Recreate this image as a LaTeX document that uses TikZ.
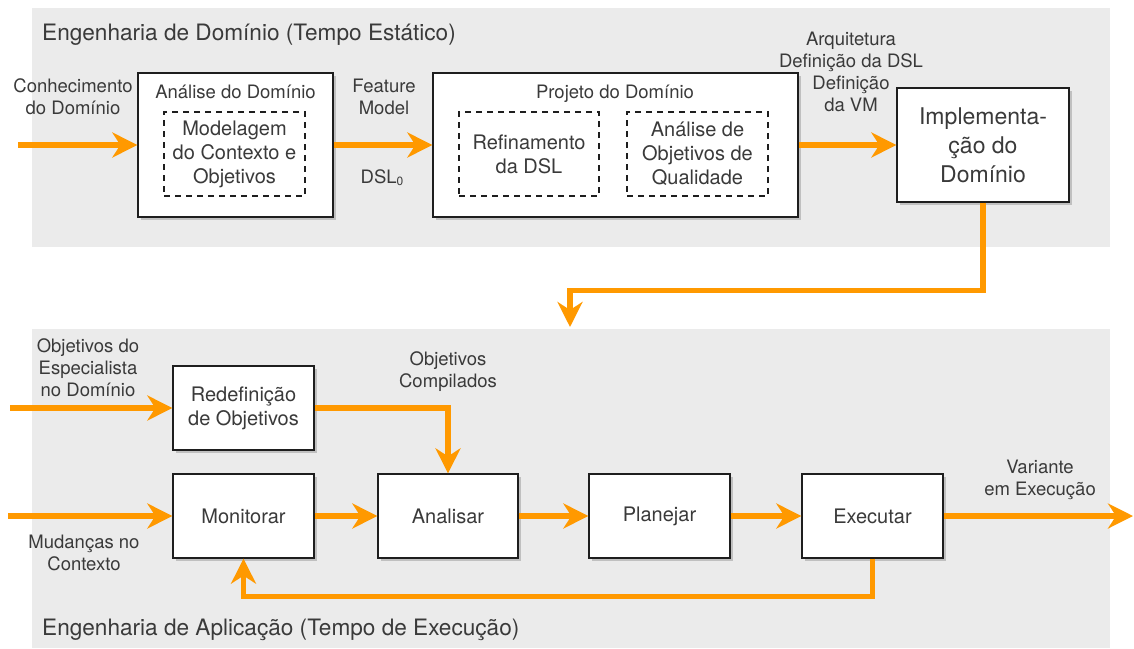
\documentclass[tikz,border=0pt]{standalone}
\usepackage{fontspec}
\setmainfont{TeX Gyre Heros}
\usetikzlibrary{arrows.meta,shadows}
\definecolor{flow}{HTML}{FF9900}
\definecolor{panel}{HTML}{EBEBEB}
\definecolor{ink}{HTML}{3A3A3A}
\definecolor{edge}{HTML}{1E1E1E}

\begin{document}
\begin{tikzpicture}[x=1pt,y=-1pt,
  every node/.style={text=ink, inner sep=0pt},
  lbl/.style={align=center, font=\fontsize{18.5}{22}\selectfont},
  boxtext/.style={align=center, font=\fontsize{20}{24}\selectfont},
  paneltitle/.style={anchor=base west, font=\fontsize{22.6}{26}\selectfont},
  box/.style={draw=edge, line width=1.3pt, fill=white,
    drop shadow={shadow xshift=3pt, shadow yshift=-3pt, fill=black, opacity=0.18}},
  dashbox/.style={draw=edge, line width=1.2pt, dash pattern=on 6pt off 5pt,
    align=center, font=\fontsize{20}{24}\selectfont},
  flowline/.style={draw=flow, line width=5.5pt, line join=miter,
    -{Stealth[length=25pt,width=25pt,inset=8pt]}}
]
\useasboundingbox (0,0) rectangle (1134,648);

% ---- static-time panel ----
\fill[panel] (32,8) rectangle (1110,247);
\node[paneltitle] (t1) at (42,40) {Engenharia de Domínio (Tempo Estático)};

\node[box, minimum width=195pt, minimum height=144pt] (an) at (235.5,145) {};
\node[lbl, anchor=base] (anl) at (235.5,98) {Análise do Domínio};
\node[dashbox, minimum width=141pt, minimum height=84pt] (mc) at (234.5,154)
  {Modelagem\\do Contexto e\\Objetivos};

\node[box, minimum width=365pt, minimum height=144pt] (pd) at (615.5,145) {};
\node[lbl, anchor=base] (pdl) at (615,98) {Projeto do Domínio};
\node[dashbox, minimum width=140pt, minimum height=84pt] (rf) at (529,154)
  {Refinamento\\da DSL};
\node[dashbox, minimum width=141pt, minimum height=84pt] (aq) at (697.5,154)
  {Análise de\\Objetivos de\\Qualidade};

\node[box, minimum width=172pt, minimum height=114pt, align=center,
  font=\fontsize{23}{29}\selectfont] (im) at (983,145)
  {Implementa-\\ção do\\Domínio};

\node[lbl] (l1) at (73,97) {Conhecimento\\do Domínio};
\node[lbl] (l2) at (384,97) {Feature\\Model};
\node[lbl] (l3) at (382,178) {DSL\raisebox{-2pt}{\fontsize{12}{12}\selectfont 0}};
\node[lbl] (l4) at (851,72) {Arquitetura\\Definição da DSL\\Definição\\da VM};

\coordinate (c1) at (18,145);
\draw[flowline] (c1) -- (an.west);
\draw[flowline] (an.east) -- (pd.west);
\draw[flowline] (pd.east) -- (im.west);
\coordinate (c2) at (570,327);
\draw[flowline] (im.south) -- ++(0,88) -| (c2);

% ---- run-time panel ----
\fill[panel] (32,329) rectangle (1110,648);
\node[paneltitle] (t2) at (42,635) {Engenharia de Aplicação (Tempo de Execução)};

\node[box, boxtext, minimum width=141pt, minimum height=84pt] (rd) at (243.5,408)
  {Redefinição\\de Objetivos};
\node[box, boxtext, minimum width=141pt, minimum height=84pt] (mo) at (243.5,516) {Monitorar};
\node[box, boxtext, minimum width=140pt, minimum height=84pt] (ana) at (448,516) {Analisar};
\node[box, boxtext, minimum width=141pt, minimum height=84pt] (pl) at (659.5,516) {Planejar};
\node[box, boxtext, minimum width=141pt, minimum height=84pt] (ex) at (872.5,516) {Executar};

\node[lbl] (l5) at (88,367.5) {Objetivos do\\Especialista\\no Domínio};
\node[lbl] (l6) at (84,553) {Mudanças no\\Contexto};
\node[lbl] (l7) at (448,372) {Objetivos\\Compilados};
\node[lbl] (l8) at (1040,480) {Variante\\em Execução};

\coordinate (c3) at (10,408);
\draw[flowline] (c3) -- (rd.west);
\draw[flowline] (rd.east) -| (ana.north);
\coordinate (c4) at (8,516);
\draw[flowline] (c4) -- (mo.west);
\draw[flowline] (mo.east) -- (ana.west);
\draw[flowline] (ana.east) -- (pl.west);
\draw[flowline] (pl.east) -- (ex.west);
\coordinate (c5) at (1133,516);
\draw[flowline] (ex.east) -- (c5);
\draw[flowline] (ex.south) -- ++(0,38) -| (mo.south);
\end{tikzpicture}
\end{document}
